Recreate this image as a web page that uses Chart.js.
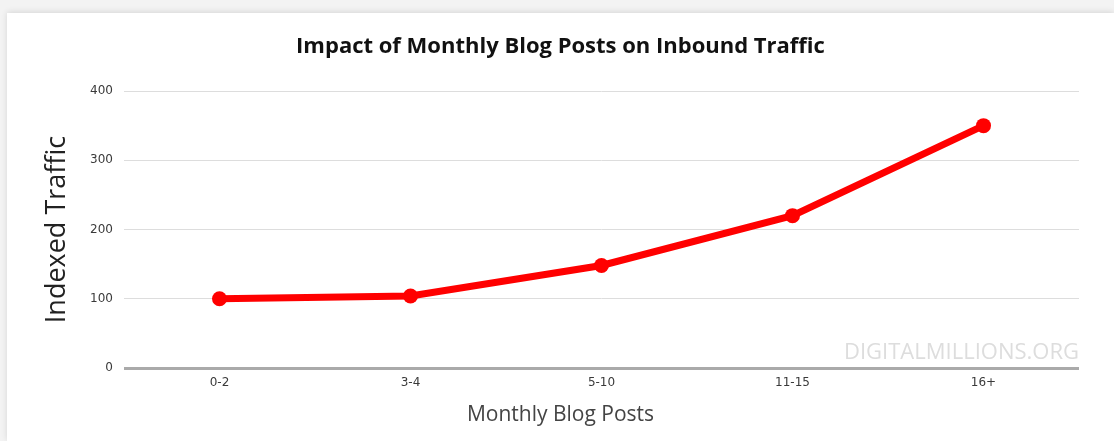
<!DOCTYPE html>
<html>
<head>
<meta charset="utf-8">
<script src="https://cdn.jsdelivr.net/npm/chart.js@4"></script>
<style>
  html, body { margin: 0; padding: 0; }
  body { width: 1114px; height: 441px; background: #f3f3f3; overflow: hidden; position: relative; }
  .card { position: absolute; left: 7px; top: 13px; width: 1107px; height: 428px; background: #fff;
          box-shadow: 0 -1px 6px rgba(0,0,0,0.12); }
  canvas { display: block; }
</style>
</head>
<body>
<div class="card"><canvas id="traffic-chart" width="1107" height="428"></canvas></div>
<script>
// Blog post frequency buckets and indexed traffic
const postBuckets = ['0-2', '3-4', '5-10', '11-15', '16+'];
const indexedTraffic = [100, 104, 148, 220, 350];
const trafficTicks = [0, 100, 200, 300, 400];

const font = '"Open Sans", sans-serif';
const tickFont = { family: '"DejaVu Sans", sans-serif', size: 12 };

// Faint site credit in the bottom right of the plot
const watermark = {
  id: 'watermark',
  afterDatasetsDraw(chart) {
    const { ctx, chartArea } = chart;
    ctx.save();
    ctx.font = '22px ' + font;
    ctx.fillStyle = '#dddddd';
    ctx.textAlign = 'right';
    ctx.textBaseline = 'middle';
    ctx.fillText('DIGITALMILLIONS.ORG', chartArea.right, chartArea.bottom - 15);
    ctx.restore();
  }
};

new Chart(document.getElementById('traffic-chart').getContext('2d'), {
  type: 'line',
  data: {
    labels: postBuckets,
    datasets: [{
      label: 'Indexed Traffic',
      data: indexedTraffic,
      borderColor: '#ff0000',
      backgroundColor: '#ff0000',
      borderWidth: 7,
      pointRadius: 7.5,
      pointHoverRadius: 7.5,
      pointBorderWidth: 0,
      tension: 0
    }]
  },
  options: {
    responsive: false,
    animation: false,
    layout: { padding: { left: 35, right: 35, top: 0, bottom: 0 } },
    plugins: {
      legend: { display: false },
      tooltip: { enabled: false },
      title: {
        display: true,
        text: 'Impact of Monthly Blog Posts on Inbound Traffic',
        color: '#111',
        font: { family: font, size: 22, weight: 'bold' },
        padding: { top: 20.5, bottom: 31.1 }
      },
      subtitle: {
        display: true,
        position: 'bottom',
        text: 'Monthly Blog Posts',
        color: '#444',
        font: { family: font, size: 21 },
        padding: { top: 4.4, bottom: 13.4 }
      }
    },
    scales: {
      x: {
        offset: true,
        grid: { display: false, drawTicks: false },
        border: { display: false },
        ticks: { color: '#3a3a3a', font: tickFont, padding: 8 },
        afterFit(scale) { scale.height = 30; }
      },
      y: {
        min: 0,
        max: 400,
        afterBuildTicks(scale) { scale.ticks = trafficTicks.map(v => ({ value: v })); },
        grid: {
          drawTicks: false,
          color: c => c.tick && c.tick.value === 0 ? '#aaaaaa' : '#dddddd',
          lineWidth: c => c.tick && c.tick.value === 0 ? 3 : 1
        },
        border: { display: false },
        ticks: { color: '#3a3a3a', font: tickFont, padding: 11 },
        title: {
          display: true,
          text: 'Indexed Traffic',
          color: '#222',
          font: { family: font, size: 27, lineHeight: 1.1 },
          padding: { top: 0, bottom: 0 }
        },
        afterFit(scale) { scale.width = 82; }
      }
    }
  },
  plugins: [watermark]
});
</script>
</body>
</html>
